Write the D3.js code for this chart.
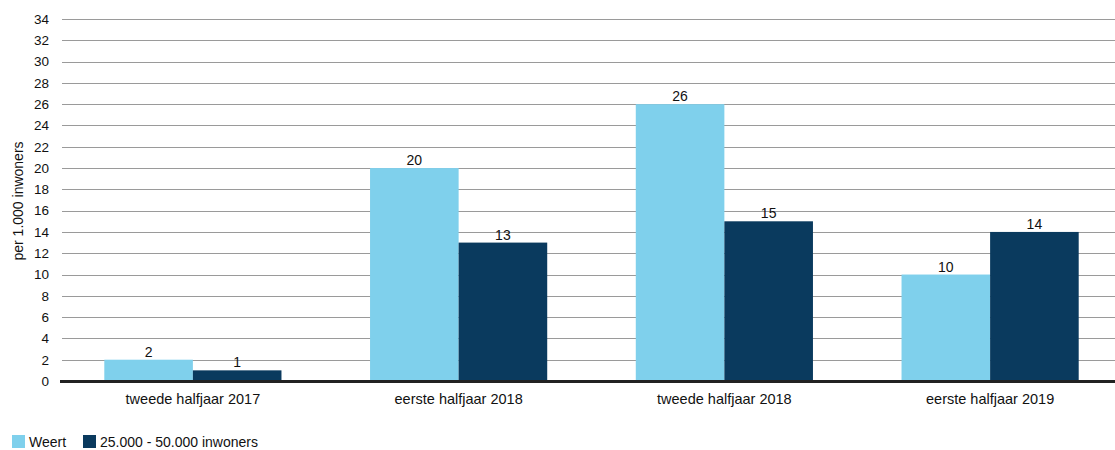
<!DOCTYPE html>
<html>
<head>
<meta charset="utf-8">
<script src="https://cdn.jsdelivr.net/npm/d3@7"></script>
<style>
  html, body { margin: 0; padding: 0; background: #fff; }
  svg { display: block; font-family: "Liberation Sans", Arial, sans-serif; }
</style>
</head>
<body>
<svg id="chart" width="1115" height="450"></svg>
<script>
// Periods on the x axis
const categories = ["tweede halfjaar 2017", "eerste halfjaar 2018", "tweede halfjaar 2018", "eerste halfjaar 2019"];
// Series names
const seriesNames = ["Weert", "25.000 - 50.000 inwoners"];
// Values per 1.000 inwoners
const weert = [2, 20, 26, 10];
const referentie = [1, 13, 15, 14];
// Y axis tick values
const yTicks = d3.range(0, 35, 2);

const colors = ["#7fd0ec", "#0a3a5e"];
const seriesValues = [weert, referentie];

const svg = d3.select("#chart");
const width = 1115, height = 450;
const margin = { top: 19, right: -8, bottom: 69, left: 60 };

const x0 = d3.scaleBand()
  .domain(categories)
  .range([margin.left, width - margin.right])
  .paddingInner(0.3333)
  .paddingOuter(0.1667);

const x1 = d3.scaleBand()
  .domain(seriesNames)
  .range([0, x0.bandwidth()]);

const y = d3.scaleLinear()
  .domain([0, 34])
  .range([height - margin.bottom, margin.top]);

// Horizontal gridlines
svg.append("g")
  .selectAll("line")
  .data(yTicks.filter(t => t > 0))
  .join("line")
  .attr("x1", margin.left + 2)
  .attr("x2", width)
  .attr("y1", d => Math.round(y(d)) + 0.5)
  .attr("y2", d => Math.round(y(d)) + 0.5)
  .attr("stroke", "#9a9a9a")
  .attr("stroke-width", 1.2);

// Y axis tick labels
const yAxis = d3.axisLeft(y).tickValues(yTicks).tickSize(0).tickPadding(0).tickFormat(d3.format("d"));
const gy = svg.append("g")
  .attr("transform", `translate(${margin.left - 11},0)`)
  .call(yAxis);
gy.select(".domain").remove();
gy.selectAll("text")
  .attr("font-size", 13.5)
  .attr("fill", "#111")
  .attr("font-family", "Liberation Sans, Arial, sans-serif");

// Y axis title
svg.append("text")
  .attr("transform", `translate(23,${y(17) + 1}) rotate(-90)`)
  .attr("text-anchor", "middle")
  .attr("font-size", 14)
  .attr("fill", "#111")
  .text("per 1.000 inwoners");

// Bars
const groups = svg.append("g")
  .selectAll("g")
  .data(categories)
  .join("g")
  .attr("transform", d => `translate(${x0(d)},0)`);

groups.selectAll("rect")
  .data((c, i) => seriesNames.map((s, k) => ({ s, k, v: seriesValues[k][i] })))
  .join("rect")
  .attr("x", d => x1(d.s))
  .attr("width", x1.bandwidth())
  .attr("y", d => y(d.v))
  .attr("height", d => y(0) - y(d.v))
  .attr("fill", d => colors[d.k]);

// Value labels
groups.selectAll("text.val")
  .data((c, i) => seriesNames.map((s, k) => ({ s, k, v: seriesValues[k][i] })))
  .join("text")
  .attr("class", "val")
  .attr("x", d => x1(d.s) + x1.bandwidth() / 2)
  .attr("y", d => y(d.v) - 3)
  .attr("text-anchor", "middle")
  .attr("font-size", 14)
  .attr("fill", "#111")
  .text(d => d3.format("d")(d.v));

// Zero baseline
svg.append("line")
  .attr("x1", margin.left)
  .attr("x2", width)
  .attr("y1", y(0) + 0.5)
  .attr("y2", y(0) + 0.5)
  .attr("stroke", "#222")
  .attr("stroke-width", 3);

// Category labels
const xAxis = d3.axisBottom(x0).tickSize(0).tickPadding(0);
const gx = svg.append("g")
  .attr("transform", `translate(0,${y(0) + 13})`)
  .call(xAxis);
gx.select(".domain").remove();
gx.selectAll("text")
  .attr("font-size", 14.5)
  .attr("fill", "#111")
  .attr("dy", "0.71em")
  .attr("font-family", "Liberation Sans, Arial, sans-serif");

// Legend
const legend = svg.append("g").attr("transform", "translate(12,435)");
const legendX = [0, 71];
seriesNames.forEach((name, k) => {
  const g = legend.append("g").attr("transform", `translate(${legendX[k]},0)`);
  g.append("rect").attr("width", 13).attr("height", 13).attr("fill", colors[k]);
  g.append("text")
    .attr("x", 17)
    .attr("y", 11.5)
    .attr("font-size", 14)
    .attr("fill", "#111")
    .text(name);
});
</script>
</body>
</html>
